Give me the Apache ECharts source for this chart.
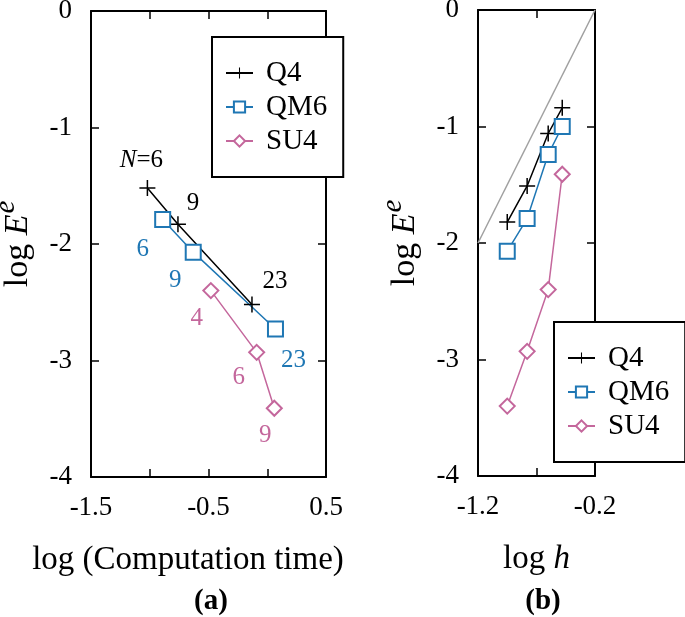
<!DOCTYPE html>
<html><head><meta charset="utf-8">
<script src="https://cdn.jsdelivr.net/npm/echarts@6/dist/echarts.min.js"></script>
<style>html,body{margin:0;padding:0;background:#fff}#c{width:685px;height:617px}</style>
</head><body><div id="c"></div>
<script>
// ---------- data ----------
const seriesNames = ['Q4', 'QM6', 'SU4'];
// (a) log(computation time) vs log Ee
const q4TimeX = [-1.02, -0.76, -0.13];
const q4TimeY = [-1.52, -1.83, -2.52];
const qm6TimeX = [-0.89, -0.63, 0.07];
const qm6TimeY = [-1.79, -2.07, -2.73];
const su4TimeX = [-0.48, -0.09, 0.06];
const su4TimeY = [-2.40, -2.93, -3.41];
const q4TimeLabels = ['N=6', '9', '23'];
const qm6TimeLabels = ['6', '9', '23'];
const su4TimeLabels = ['4', '6', '9'];
// (b) log h vs log Ee
const logH = [-0.95, -0.78, -0.60, -0.48];
const q4HY = [-1.82, -1.51, -1.06, -0.84];
const qm6HY = [-2.07, -1.79, -1.24, -1.00];
const su4HY = [-3.40, -2.93, -2.40, -1.41];
const refLineX = [-1.2, -0.2];
const refLineY = [-2.0, 0.0];
// tick labels
const leftXTickLabels = ['-1.5', '-0.5', '0.5'];
const rightXTickLabels = ['-1.2', '-0.2'];
const panelTags = ['(a)', '(b)'];

// ---------- styling ----------
const FONT = 'Liberation Serif';
const BLACK = '#000000', BLUE = '#1f77b4', PINK = '#c4679c', GRAY = '#a0a0a0';
const PLUS = 'path://M7.25,0H8.75V7.25H16V8.75H8.75V16H7.25V8.75H0V7.25H7.25Z';
const styles = {
  Q4: {color: BLACK, symbol: PLUS, size: 16, bw: 0},
  QM6: {color: BLUE, symbol: 'emptyRect', size: 15, bw: 1.6},
  SU4: {color: PINK, symbol: 'emptyDiamond', size: 15, bw: 1.6}
};
const labelOffsets = {
  Q4: [[-6, -28], [15, -21], [23, -23]],
  QM6: [[-20, 30], [-18, 28], [18, 31]],
  SU4: [[-14, 28], [-18, 25], [-9, 27]]
};

function pts(xs, ys) { return xs.map((x, i) => [x, ys[i]]); }

function mkSeries(name, xs, ys, panel, labels) {
  const st = styles[name];
  const s = {
    name: name, type: 'line',
    xAxisIndex: panel * 2, yAxisIndex: panel * 2,
    symbol: st.symbol, symbolSize: st.size, showAllSymbol: true,
    lineStyle: {color: st.color, width: 1.5},
    itemStyle: {color: st.color, borderColor: st.color, borderWidth: st.bw},
    emphasis: {disabled: true},
    z: 3,
    data: pts(xs, ys).map((p, i) => {
      const d = {value: p};
      if (labels) d.label = {offset: labelOffsets[name][i]};
      return d;
    })
  };
  if (labels) {
    s.label = {
      show: true, position: 'inside', color: st.color,
      fontFamily: FONT, fontSize: 25,
      formatter: p => labels[p.dataIndex].replace('N', '{n|N}'),
      rich: {n: {fontStyle: 'italic', fontFamily: FONT, fontSize: 25, color: st.color}}
    };
  }
  return s;
}

function xAxisCfg(grid, min, max, pos, labeled, name, namePad) {
  const a = {
    gridIndex: grid, type: 'value', min: min, max: max, interval: 0.5, position: pos,
    axisLine: {show: true, onZero: false, lineStyle: {color: BLACK, width: 2}},
    axisTick: {show: true, inside: true, length: 8, lineStyle: {color: BLACK, width: 1.5}},
    splitLine: {show: false},
    axisLabel: {show: false}
  };
  if (labeled) {
    a.axisLabel = {
      show: true, color: BLACK, fontFamily: FONT, fontSize: 27, margin: 17,
      formatter: v => { const t = (Math.round(v * 10) / 10).toFixed(1); return labeled.indexOf(t) >= 0 ? t : ''; }
    };
    a.name = name; a.nameLocation = 'middle'; a.nameGap = 67;
    a.nameTextStyle = {color: BLACK, fontFamily: FONT, fontSize: 33, padding: namePad};
  }
  return a;
}
function yAxisCfg(grid, pos, labeled, gap) {
  const a = {
    gridIndex: grid, type: 'value', min: -4, max: 0, interval: 1, position: pos,
    axisLine: {show: true, onZero: false, lineStyle: {color: BLACK, width: 2}},
    axisTick: {show: true, inside: true, length: 8, lineStyle: {color: BLACK, width: 1.5}},
    splitLine: {show: false},
    axisLabel: {show: false}
  };
  if (labeled) {
    a.axisLabel = {show: true, color: BLACK, fontFamily: FONT, fontSize: 27, margin: 19};
    a.name = 'log {e|E}{s|e}'; a.nameLocation = 'middle'; a.nameGap = gap; a.nameRotate = 90;
    a.nameTextStyle = {
      color: BLACK, fontFamily: FONT, fontSize: 34,
      rich: {
        e: {fontStyle: 'italic', fontFamily: FONT, fontSize: 34, color: BLACK},
        s: {fontStyle: 'italic', fontFamily: FONT, fontSize: 29, color: BLACK, padding: [0, 0, 24, 1]}
      }
    };
  }
  return a;
}

function legendCfg(left, top) {
  return {
    data: seriesNames, orient: 'vertical', left: left, top: top,
    padding: [21, 16, 21, 13], itemWidth: 27, itemHeight: 14, itemGap: 4,
    borderColor: BLACK, borderWidth: 2, backgroundColor: '#ffffff',
    selectedMode: false, z: 10,
    textStyle: {color: BLACK, fontFamily: FONT, fontSize: 29, lineHeight: 30, padding: [0, 0, 0, 8]}
  };
}

const option = {
  animation: false,
  backgroundColor: '#ffffff',
  textStyle: {fontFamily: FONT},
  grid: [
    {left: 91, top: 11, width: 235, height: 466, containLabel: false, outerBoundsMode: 'none'},
    {left: 478, top: 10, width: 117, height: 466, containLabel: false, outerBoundsMode: 'none'}
  ],
  xAxis: [
    xAxisCfg(0, -1.5, 0.5, 'bottom', leftXTickLabels, 'log (Computation time)', [0, 41, 0, 0]),
    xAxisCfg(0, -1.5, 0.5, 'top', null),
    xAxisCfg(1, -1.2, -0.2, 'bottom', rightXTickLabels, 'log {h|h}', [0, 0, 0, 0]),
    xAxisCfg(1, -1.2, -0.2, 'top', null)
  ],
  yAxis: [
    yAxisCfg(0, 'left', true, 46),
    yAxisCfg(0, 'right', false),
    yAxisCfg(1, 'left', true, 46),
    yAxisCfg(1, 'right', false)
  ],
  legend: [legendCfg(212, 37), legendCfg(554, 322)],
  series: [
    {
      name: 'reference', type: 'line', xAxisIndex: 2, yAxisIndex: 2,
      data: pts(refLineX, refLineY), symbol: 'none', silent: true, z: 2,
      lineStyle: {color: GRAY, width: 1.5}
    },
    mkSeries('Q4', q4TimeX, q4TimeY, 0, q4TimeLabels),
    mkSeries('QM6', qm6TimeX, qm6TimeY, 0, qm6TimeLabels),
    mkSeries('SU4', su4TimeX, su4TimeY, 0, su4TimeLabels),
    mkSeries('Q4', logH, q4HY, 1, null),
    mkSeries('QM6', logH, qm6HY, 1, null),
    mkSeries('SU4', logH, su4HY, 1, null)
  ],
  graphic: [
    {type: 'text', x: 211, y: 602, style: {text: panelTags[0], fontFamily: FONT, fontSize: 29, fontWeight: 'bold', fill: BLACK, align: 'center', verticalAlign: 'middle'}},
    {type: 'text', x: 543, y: 602, style: {text: panelTags[1], fontFamily: FONT, fontSize: 29, fontWeight: 'bold', fill: BLACK, align: 'center', verticalAlign: 'middle'}}
  ]
};
option.xAxis[2].nameTextStyle.rich = {h: {fontStyle: 'italic', fontFamily: FONT, fontSize: 33, color: BLACK}};

const chart = echarts.init(document.getElementById('c'), null, {renderer: 'canvas'});
chart.setOption(option);
</script>
</body></html>
